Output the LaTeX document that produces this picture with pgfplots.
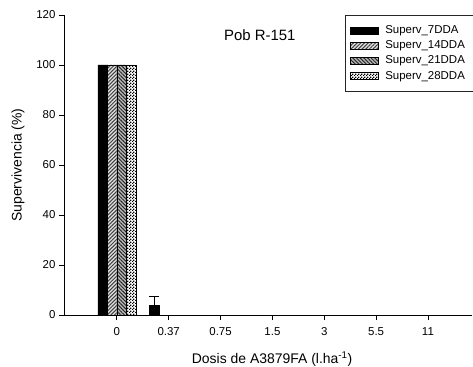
\documentclass[border=0pt]{standalone}
\usepackage{fontspec}
\setmainfont{Liberation Sans}
\usepackage{pgfplots}
\pgfplotsset{compat=1.18}
\usetikzlibrary{patterns,patterns.meta}

% small black/white checker used for the 28 DDA series
\pgfdeclarepatternformonly{finechecker}{\pgfpointorigin}{\pgfqpoint{3bp}{3bp}}{\pgfqpoint{3bp}{3bp}}{%
  \pgfpathrectangle{\pgfpointorigin}{\pgfqpoint{1.5bp}{1.5bp}}%
  \pgfpathrectangle{\pgfqpoint{1.5bp}{1.5bp}}{\pgfqpoint{1.5bp}{1.5bp}}%
  \pgfusepath{fill}}

\begin{document}
\begin{tikzpicture}
\begin{axis}[
  scale only axis, width=408bp, height=300bp,
  ybar=0pt, bar width=9.5bp,
  xmin=-1.02, xmax=6.85, ymin=0, ymax=120,
  xtick={0,...,6}, xticklabels={0,0.37,0.75,1.5,3,5.5,11},
  ytick={0,20,...,120},
  axis x line*=bottom, axis y line*=left,
  axis line style={-, line width=0.8pt, black},
  tick align=outside, major tick length=5bp,
  tick style={line width=0.8pt, black},
  /pgf/number format/assume math mode=true,
  ticklabel style={font=\fontsize{11.5}{13}\selectfont},
  xticklabel style={yshift=-4bp},
  xlabel={Dosis de A3879FA (l.ha\textsuperscript{-1})},
  ylabel={Supervivencia (\%)},
  label style={font=\fontsize{14}{16}\selectfont},
  xlabel style={at={(axis description cs:0.51,-0.148)}, anchor=center},
  ylabel style={at={(axis description cs:-0.1127,0.5)}, anchor=center, rotate=0},
  legend cell align=left,
  legend image code/.code={\draw[#1] (0bp,-3.5bp) rectangle (28bp,3.5bp);},
  legend style={at={(axis description cs:0.6875,1)}, anchor=north west,
    draw=black!85, line width=0.6pt, font=\fontsize{11.5}{13}\selectfont,
    inner xsep=5bp, inner ysep=8bp, row sep=1.3bp,
    nodes={inner xsep=4bp, inner ysep=1.5bp, text height=8.5bp, text depth=2.5bp},
    /tikz/every odd column/.append style={column sep=3bp}},
  every axis plot/.append style={draw=black, line width=0.5pt},
]
\addplot[fill=black,
  error bars/.cd, y dir=plus, y explicit,
  error bar style={line width=0.8pt, black},
  error mark options={rotate=90, mark size=5bp, line width=0.8pt, black}]
  coordinates {(0,100) (1,4) +- (0,3.6) (2,0) (3,0) (4,0) (5,0) (6,0)};
\addplot[fill=gray!25, postaction={pattern={Lines[angle=45,distance=2.6bp,line width=1bp]}, pattern color=black!75}]
  coordinates {(0,100) (1,0) (2,0) (3,0) (4,0) (5,0) (6,0)};
\addplot[fill=gray!55, postaction={pattern={Lines[angle=-45,distance=2.6bp,line width=1bp]}, pattern color=black!85}]
  coordinates {(0,100) (1,0) (2,0) (3,0) (4,0) (5,0) (6,0)};
\addplot[fill=white, postaction={pattern=finechecker, pattern color=black}]
  coordinates {(0,100) (1,0) (2,0) (3,0) (4,0) (5,0) (6,0)};
\legend{Superv\_7DDA, Superv\_14DDA, Superv\_21DDA, Superv\_28DDA}
\node[font=\fontsize{15}{18}\selectfont] at (rel axis cs:0.48,0.933) {Pob R-151};
\end{axis}
\pgfresetboundingbox
\path[use as bounding box] (-64bp,-52bp) rectangle (409bp,315bp);
\end{tikzpicture}
\end{document}
